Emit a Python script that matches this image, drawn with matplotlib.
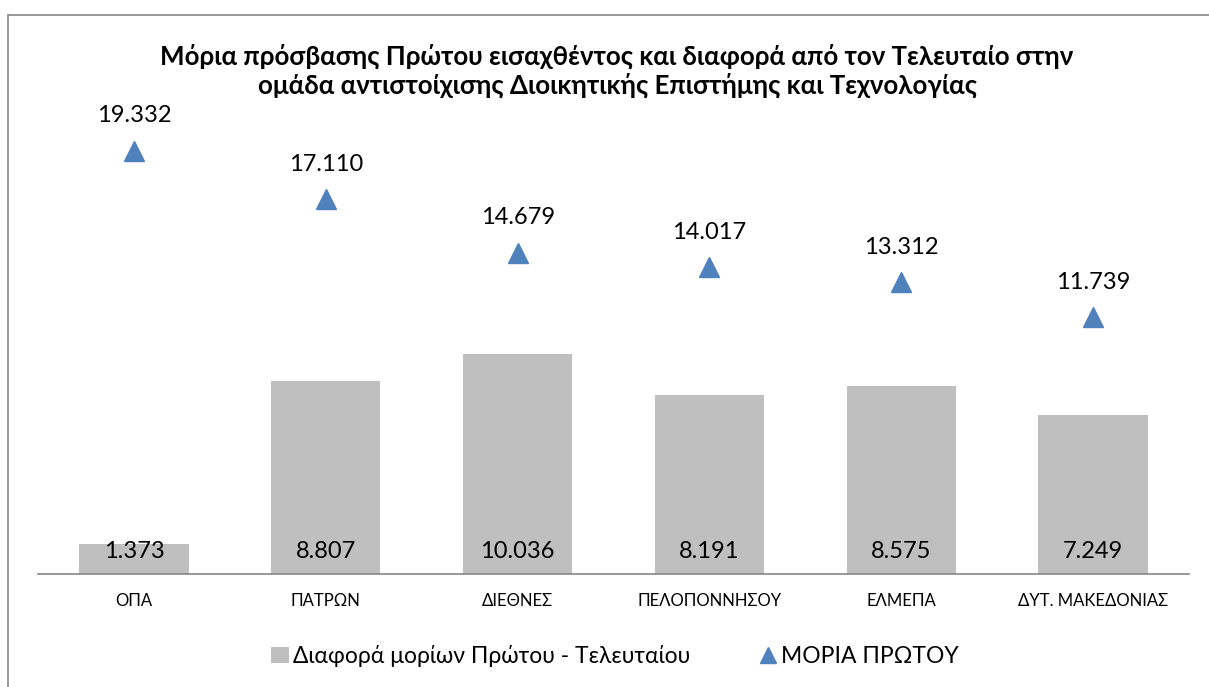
import matplotlib
matplotlib.use("Agg")
import matplotlib.pyplot as plt
from matplotlib.patches import Rectangle
from matplotlib.lines import Line2D
import numpy as np

plt.rcParams["font.family"] = ["Lato", "Open Sans", "DejaVu Sans"]

categories = ["ΟΠΑ", "ΠΑΤΡΩΝ", "ΔΙΕΘΝΕΣ", "ΠΕΛΟΠΟΝΝΗΣΟΥ", "ΕΛΜΕΠΑ", "ΔΥΤ. ΜΑΚΕΔΟΝΙΑΣ"]
diff_values = [1.373, 8.807, 10.036, 8.191, 8.575, 7.249]
first_values = [19.332, 17.110, 14.679, 14.017, 13.312, 11.739]

title = ("Μόρια πρόσβασης Πρώτου εισαχθέντος και διαφορά από τον Τελευταίο στην\n"
         "ομάδα αντιστοίχισης Διοικητικής Επιστήμης και Τεχνολογίας")
bar_label = "Διαφορά μορίων Πρώτου - Τελευταίου"
marker_label = "ΜΟΡΙΑ ΠΡΩΤΟΥ"

bar_color = "#BFBFBF"
marker_color = "#4F81BD"
W, H = 1209, 687

fig = plt.figure(figsize=(W / 100, H / 100), dpi=100)

# chart frame (only top and left edges visible in the crop)
fig.patches.append(Rectangle((8 / W, -0.1), 1.2, 1 - 15 / H + 0.1, transform=fig.transFigure,
                             fill=False, edgecolor="#868686", linewidth=1.2))

ax = fig.add_axes([38 / W, (H - 574) / H, 1151 / W, 24 * 21.9 / H])
x = np.arange(len(categories))

ax.bar(x, diff_values, width=0.57, color=bar_color, zorder=2)
ax.plot(x, first_values, linestyle="none", marker="^", markersize=14,
        color=marker_color, zorder=3)

for xi, v in zip(x, diff_values):
    ax.annotate(f"{v:.3f}", (xi, 0), xytext=(0, 16.5), textcoords="offset points",
                ha="center", va="center", fontsize=17, color="#000000")
for xi, v in zip(x, first_values):
    ax.annotate(f"{v:.3f}", (xi, v), xytext=(0, 25), textcoords="offset points",
                ha="center", va="center", fontsize=17, color="#000000")

ax.set_xlim(-0.5, len(categories) - 0.5)
ax.set_ylim(0, 24)
ax.set_xticks(x)
ax.set_xticklabels(categories, fontsize=12)
ax.tick_params(axis="x", length=0, pad=14)
ax.set_yticks([])
for s in ["top", "right", "left"]:
    ax.spines[s].set_visible(False)
ax.spines["bottom"].set_color("#868686")
ax.spines["bottom"].set_linewidth(1.2)
ax.patch.set_alpha(0)

fig.text(617 / W, 1 - 71 / H, title, ha="center", va="center", fontsize=18.6,
         fontweight="bold", linespacing=1.2)

handles = [
    Rectangle((0, 0), 1, 1, facecolor=bar_color, edgecolor="none"),
    Line2D([], [], linestyle="none", marker="^", markersize=12, color=marker_color),
]
fig.legend(handles, [bar_label, marker_label], loc="center",
           bbox_to_anchor=(615 / W, 1 - 656 / H), ncol=2, frameon=False,
           fontsize=16.5, handlelength=0.75, handleheight=0.75, handletextpad=0.2,
           columnspacing=3.0)

fig.savefig("out.png", dpi=100)
